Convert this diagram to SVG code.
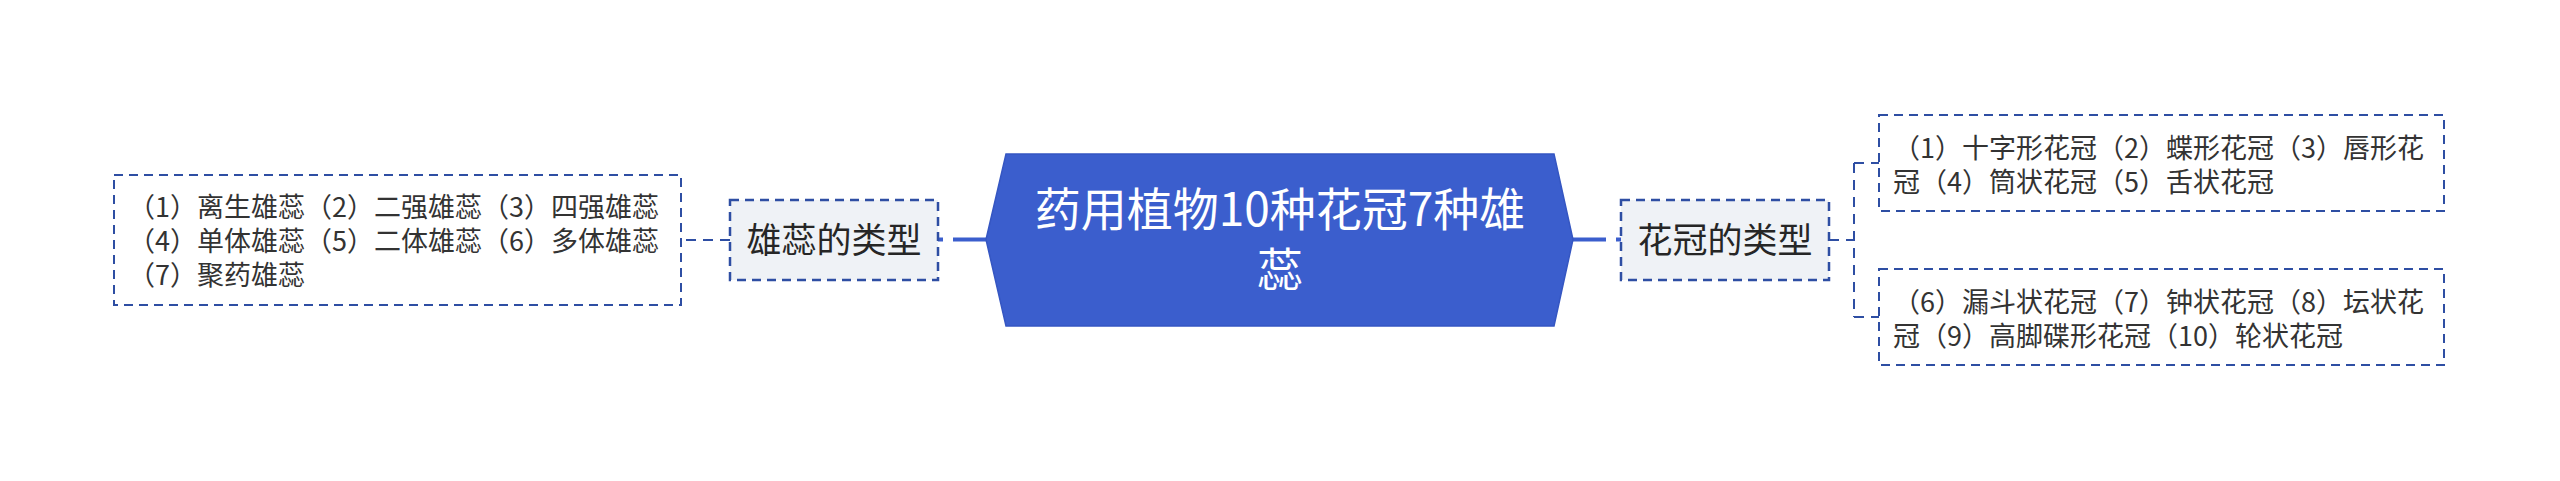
<svg xmlns="http://www.w3.org/2000/svg" width="2560" height="481" viewBox="0 0 2560 481">
<style>
text{font-family:"Noto Sans CJK SC","Noto Sans",sans-serif;}
.main{fill:#3b5ecd;stroke:#3556c2;stroke-width:1.5;}
.mt{fill:#ffffff;font-size:46px;text-anchor:middle;}
.sub{fill:#eff2f6;stroke:#2e4ea3;stroke-width:2.5;stroke-dasharray:9 6;}
.st{fill:#262626;font-size:35px;text-anchor:middle;}
.leaf{fill:#ffffff;stroke:#2e4ea3;stroke-width:2;stroke-dasharray:9 6;}
.lt{fill:#333333;font-size:27px;}
.c1{fill:none;stroke:#3b5ecd;stroke-width:4;stroke-dasharray:33 10 5 100;}
.c2{fill:none;stroke:#2e4ea3;stroke-width:2;stroke-dasharray:10 7;}
</style>
<rect width="2560" height="481" fill="#ffffff"/>
<g id="connectors">
<path class="c1" d="M986,239.5 H938"/>
<path class="c1" d="M1573,239.5 H1621"/>
<path class="c2" d="M730,240 H681"/>
<path class="c2" d="M1829,240 H1854"/>
<path class="c2" d="M1854,163 V317"/>
<path class="c2" d="M1854,163 H1879"/>
<path class="c2" d="M1854,317 H1879"/>
</g>
<g id="root">
<polygon class="main" points="1006,154 1554,154 1573,239.5 1554,326 1006,326 986,239.5"/>
<text class="mt" x="1280" y="226">药用植物10种花冠7种雄</text>
<text class="mt" x="1280" y="286">蕊</text>
</g>
<g id="stamen">
<rect class="sub" x="730" y="200" width="208" height="80"/>
<text class="st" x="834" y="253">雄蕊的类型</text>
</g>
<g id="corolla">
<rect class="sub" x="1621" y="200" width="208" height="80"/>
<text class="st" x="1725" y="253">花冠的类型</text>
</g>
<g id="stamen-leaf">
<rect class="leaf" x="114" y="175" width="567" height="130"/>
<text class="lt" x="128" y="217">（1）离生雄蕊（2）二强雄蕊（3）四强雄蕊</text>
<text class="lt" x="128" y="251">（4）单体雄蕊（5）二体雄蕊（6）多体雄蕊</text>
<text class="lt" x="128" y="285">（7）聚药雄蕊</text>
</g>
<g id="corolla-leaf-1">
<rect class="leaf" x="1879" y="115" width="565" height="96"/>
<text class="lt" x="1893" y="158">（1）十字形花冠（2）蝶形花冠（3）唇形花</text>
<text class="lt" x="1893" y="192">冠（4）筒状花冠（5）舌状花冠</text>
</g>
<g id="corolla-leaf-2">
<rect class="leaf" x="1879" y="269" width="565" height="96"/>
<text class="lt" x="1893" y="312">（6）漏斗状花冠（7）钟状花冠（8）坛状花</text>
<text class="lt" x="1893" y="346">冠（9）高脚碟形花冠（10）轮状花冠</text>
</g>
</svg>
